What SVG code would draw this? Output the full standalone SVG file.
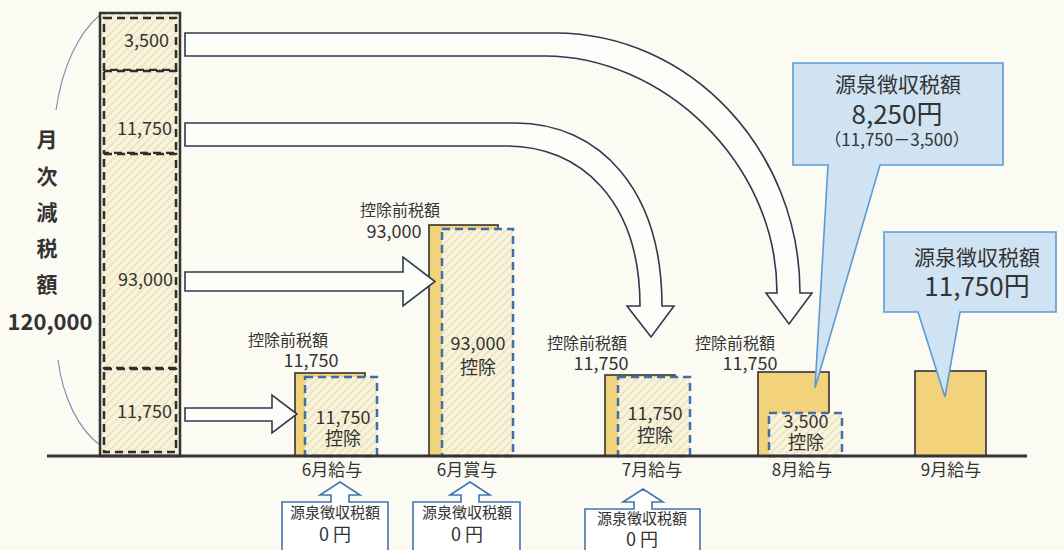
<svg xmlns="http://www.w3.org/2000/svg" width="1064" height="550" viewBox="0 0 1064 550">
  <defs>
    <pattern id="hatch" patternUnits="userSpaceOnUse" width="8" height="8">
      <rect width="8" height="8" fill="#f8f3dc"/>
      <path d="M0,8 L8,0 M-2,2 L2,-2 M6,10 L10,6" stroke="#ede3bd" stroke-width="1.6"/>
    </pattern>
    <style>
      text { font-family: "Noto Sans CJK JP", "Noto Sans", sans-serif; fill: #333; text-anchor: middle; }
      .b { font-weight: bold; }
      .col { font-size: 18px; text-anchor: end; }
      .s16 { font-size: 16px; }
      .s18 { font-size: 18px; }
      .s17 { font-size: 17px; }
      .s15 { font-size: 15px; }
      .bar { fill: #f2d37c; stroke: #333; stroke-width: 1.6; }
      .dbox { fill: url(#hatch); stroke: #3f6fa8; stroke-width: 2.5; stroke-dasharray: 8 5; }
      .kdash { fill: url(#hatch); stroke: #2e2e2e; stroke-width: 2.5; stroke-dasharray: 8 5; }
      .arrow { fill: #fdfdf9; stroke: #2d3b50; stroke-width: 1.6; stroke-linejoin: miter; }
      .wcall { fill: #ffffff; stroke: #3f76b0; stroke-width: 1.6; }
      .bcall { fill: #cfe3f2; stroke: #5b9bd5; stroke-width: 1.6; }
    </style>
  </defs>
  <rect width="1064" height="550" fill="#fbfbf4"/>

  <g id="left-label">
    <path d="M100,15 C78,33 62,68 56,110" fill="none" stroke="#7f93b5" stroke-width="1.2"/>
    <path d="M58,360 C63,398 79,430 100,445" fill="none" stroke="#7f93b5" stroke-width="1.2"/>
    <text class="b" x="47" y="147" font-size="21">月</text>
    <text class="b" x="47" y="184" font-size="21">次</text>
    <text class="b" x="47" y="220" font-size="21">減</text>
    <text class="b" x="47" y="256" font-size="21">税</text>
    <text class="b" x="47" y="292" font-size="21">額</text>
    <text class="b" x="50" y="330" font-size="22">120,000</text>
  </g>

  <g id="column">
    <rect x="100" y="13" width="80" height="443" fill="url(#hatch)" stroke="#333" stroke-width="2.5"/>
    <rect class="kdash" x="104" y="18" width="72" height="52"/>
    <rect class="kdash" x="104" y="71" width="72" height="82"/>
    <rect class="kdash" x="104" y="154" width="72" height="214"/>
    <rect class="kdash" x="104" y="369" width="72" height="83"/>
    <text class="col" x="169" y="47">3,500</text>
    <text class="col" x="172" y="135">11,750</text>
    <text class="col" x="173" y="286">93,000</text>
    <text class="col" x="172" y="418">11,750</text>
  </g>

  <g id="bar-jun-salary">
    <rect class="bar" x="295" y="373" width="70" height="83"/>
    <rect class="dbox" x="305" y="377" width="72" height="79"/>
    <text class="s16" x="288" y="346">控除前税額</text>
    <text class="s18" x="311" y="367">11,750</text>
    <text class="s18" x="343" y="424">11,750</text>
    <text class="s18" x="343" y="445">控除</text>
    <text class="s17" x="332" y="476">6月給与</text>
  </g>

  <g id="bar-jun-bonus">
    <rect class="bar" x="429" y="225" width="69" height="231"/>
    <rect class="dbox" x="442" y="229" width="71" height="227"/>
    <text class="s16" x="400" y="216">控除前税額</text>
    <text class="s18" x="394" y="238">93,000</text>
    <text class="s18" x="478" y="350">93,000</text>
    <text class="s18" x="478" y="374">控除</text>
    <text class="s17" x="467" y="476">6月賞与</text>
  </g>

  <g id="bar-jul-salary">
    <rect class="bar" x="605" y="375" width="70" height="81"/>
    <rect class="dbox" x="618" y="377" width="72" height="79"/>
    <text class="s16" x="587" y="349">控除前税額</text>
    <text class="s18" x="601" y="370">11,750</text>
    <text class="s18" x="655" y="420">11,750</text>
    <text class="s18" x="655" y="442">控除</text>
    <text class="s17" x="652" y="476">7月給与</text>
  </g>

  <g id="bar-aug-salary">
    <rect class="bar" x="758" y="372" width="71" height="84"/>
    <rect class="dbox" x="769" y="413" width="73" height="43"/>
    <text class="s16" x="735" y="349">控除前税額</text>
    <text class="s18" x="750" y="370">11,750</text>
    <text class="s18" x="806" y="428">3,500</text>
    <text class="s18" x="806" y="449">控除</text>
    <text class="s17" x="802" y="476">8月給与</text>
  </g>

  <g id="bar-sep-salary">
    <rect class="bar" x="915" y="371" width="71" height="85"/>
    <text class="s17" x="951" y="476">9月給与</text>
  </g>

  <g id="ground">
    <line x1="47" y1="456" x2="1027" y2="456" stroke="#333" stroke-width="3"/>
  </g>

  <g id="connectors">
    <path class="arrow" d="M185,33 H555 C690,33 800,150 800,293 H812 L789,324 L766,293 H777 C777,160 660,56 545,56 H185 Z"/>
    <path class="arrow" d="M185,123 H515 C600,123 662,190 662,306 H674 L651,337 L627,306 H640 C640,200 580,146 507,146 H185 Z"/>
    <path class="arrow" d="M185,272 H403 V257 L435,281.5 L403,306 V291 H185 Z"/>
    <path class="arrow" d="M185,408 H272 V395 L297,414 L272,433 V421 H185 Z"/>
  </g>

  <g id="callout-aug">
    <path class="bcall" d="M793,63 H1003 V165 H880 L815,388 L828,165 H793 Z"/>
    <text x="898" y="92" font-size="21">源泉徴収税額</text>
    <text x="897" y="124" font-size="26">8,250円</text>
    <text x="897" y="146" font-size="17">（11,750－3,500）</text>
  </g>

  <g id="callout-sep">
    <path class="bcall" d="M884,232 H1056 V312 H960 L945,397 L918,312 H884 Z"/>
    <text x="977" y="265" font-size="21">源泉徴収税額</text>
    <text x="977" y="296" font-size="26">11,750円</text>
  </g>

  <g id="callout-jun-salary">
    <path class="wcall" d="M282,502 H331 V495 H320 L340,482 L360,495 H349 V502 H388 V556 H282 Z"/>
    <text class="s15" x="335" y="518">源泉徴収税額</text>
    <text class="s18" x="335" y="541">0 円</text>
  </g>

  <g id="callout-jun-bonus">
    <path class="wcall" d="M413,502 H461 V495 H450 L470,482 L490,495 H479 V502 H520 V556 H413 Z"/>
    <text class="s15" x="467" y="518">源泉徴収税額</text>
    <text class="s18" x="467" y="541">0 円</text>
  </g>

  <g id="callout-jul-salary">
    <path class="wcall" d="M585,509 H634 V502 H623 L643,489 L663,502 H652 V509 H700 V556 H585 Z"/>
    <text class="s15" x="642" y="524">源泉徴収税額</text>
    <text class="s18" x="642" y="546">0 円</text>
  </g>
</svg>
